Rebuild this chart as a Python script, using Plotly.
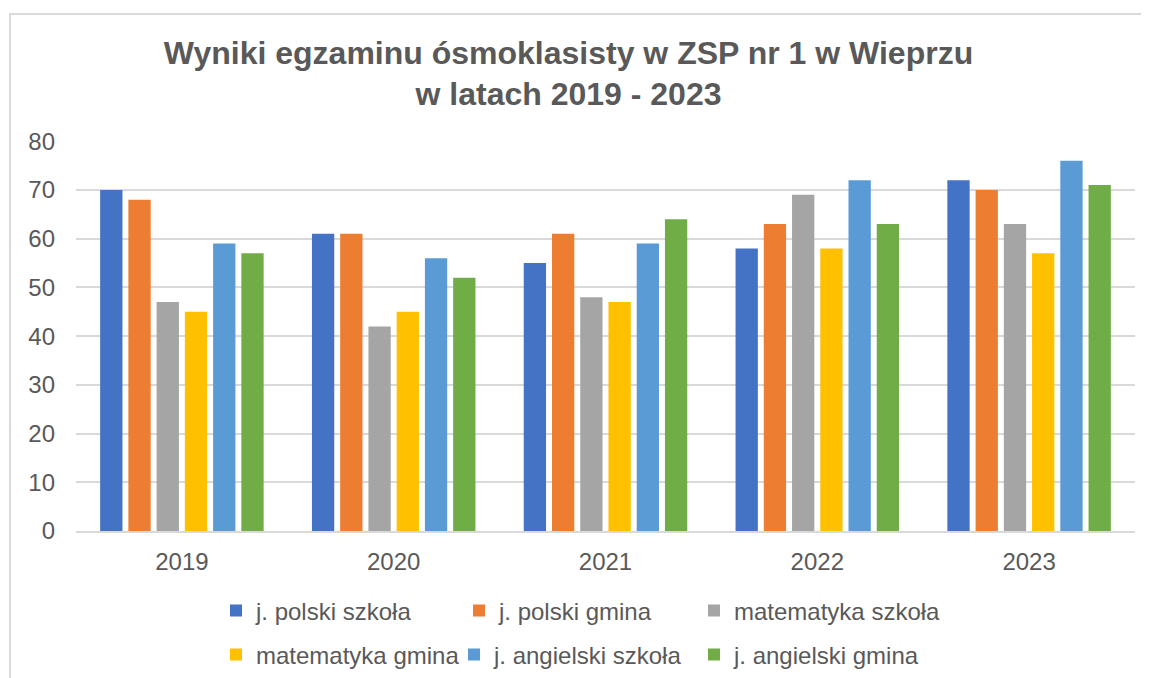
import plotly.graph_objects as go

years = ["2019", "2020", "2021", "2022", "2023"]

series_names = [
    "j. polski szkoła",
    "j. polski gmina",
    "matematyka szkoła",
    "matematyka gmina",
    "j. angielski szkoła",
    "j. angielski gmina",
]

polski_szkola = [70, 61, 55, 58, 72]
polski_gmina = [68, 61, 61, 63, 70]
matematyka_szkola = [47, 42, 48, 69, 63]
matematyka_gmina = [45, 45, 47, 58, 57]
angielski_szkola = [59, 56, 59, 72, 76]
angielski_gmina = [57, 52, 64, 63, 71]

y_ticks = [0, 10, 20, 30, 40, 50, 60, 70, 80]

colors = ["#4472C4", "#ED7D31", "#A5A5A5", "#FFC000", "#5B9BD5", "#70AD47"]

# page body has an 8px margin, so the figure is a bit smaller than the window
W, H = 1141, 670
M_L, M_R, M_T, M_B = 68, 14, 133, 147
FONT = "Arial, 'Liberation Sans', sans-serif"
TEXT = "#595959"
GRID = "#d9d9d9"

values = [polski_szkola, polski_gmina, matematyka_szkola,
          matematyka_gmina, angielski_szkola, angielski_gmina]

# legend entry positions (px, figure coords): Excel lays them out in two uneven rows
legend_pos = [(208, 603), (451, 603), (686, 603),
              (208, 647), (446, 647), (686, 647)]

fig = go.Figure()
legends = {}
for i, (name, vals) in enumerate(zip(series_names, values)):
    key = "legend" if i == 0 else f"legend{i + 1}"
    fig.add_bar(
        x=years, y=vals, name=name,
        marker=dict(color=colors[i], line=dict(width=0)),
        legend=key,
    )
    lx, ly = legend_pos[i]
    legends[key] = dict(
        orientation="h", xref="container", yref="container",
        x=lx / W, y=1 - ly / H, yanchor="middle", xanchor="left",
        font=dict(family=FONT, size=24, color=TEXT),
        bgcolor="rgba(0,0,0,0)", itemclick=False,
    )

pw = W - M_L - M_R
ph = H - M_T - M_B
# light grey frame around the whole chart
fig.add_shape(
    type="rect", xref="paper", yref="paper",
    x0=(2 - M_L) / pw, x1=(W + 5 - M_L) / pw,
    y0=(H - M_B - (H + 5)) / ph, y1=(H - M_B - 6) / ph,
    line=dict(color=GRID, width=2), layer="below",
)

fig.update_layout(
    width=W, height=H,
    margin=dict(l=M_L, r=M_R, t=M_T, b=M_B),
    paper_bgcolor="white", plot_bgcolor="white",
    font=dict(family=FONT, size=24, color=TEXT),
    title=dict(
        text="<b>Wyniki egzaminu ósmoklasisty w ZSP nr 1 w Wieprzu<br>w latach 2019 - 2023</b>",
        x=560.5 / W, xanchor="center", xref="container",
        y=1 - 55.5 / H, yanchor="middle", yref="container",
        font=dict(family=FONT, size=32, color=TEXT),
    ),
    barmode="group", bargap=0.2, bargroupgap=0.21,
    showlegend=True,
    xaxis=dict(
        showgrid=False, showline=True, linecolor=GRID, linewidth=1.5,
        ticks="", ticklabelstandoff=8,
        tickfont=dict(family=FONT, size=24, color=TEXT),
    ),
    yaxis=dict(
        range=[0, 80.05], tickvals=y_ticks,
        showgrid=True, gridcolor=GRID, gridwidth=1.5,
        zeroline=False, showline=False, ticks="", ticklabelstandoff=20,
        tickfont=dict(family=FONT, size=24, color=TEXT),
    ),
    **legends,
)

fig.write_html("out.html")
